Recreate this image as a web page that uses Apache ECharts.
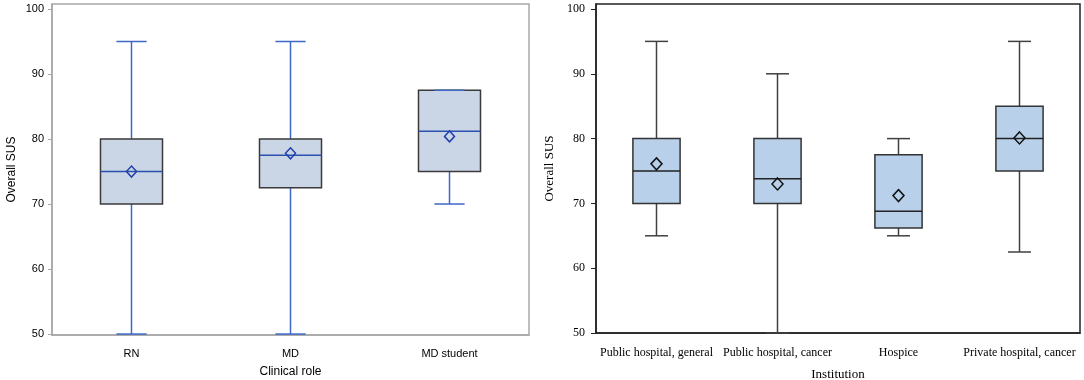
<!DOCTYPE html>
<html>
<head>
<meta charset="utf-8">
<script src="https://cdn.jsdelivr.net/npm/echarts@6/dist/echarts.min.js"></script>
<style>
  html, body { margin: 0; padding: 0; background: #fff; }
  #chart { width: 1084px; height: 380px; }
</style>
</head>
<body>
<div id="chart"></div>
<script>
// left panel: by clinical role
const roleCategories = ['RN', 'MD', 'MD student'];
// [min, q1, median, q3, max]
const roleBoxes = [
  [50, 70, 75, 80, 95],
  [50, 72.5, 77.5, 80, 95],
  [70, 75, 81.2, 87.5, 87.5],
];
const roleMeans = [75, 77.8, 80.4];

// right panel: by institution
const instCategories = ['Public hospital, general', 'Public hospital, cancer', 'Hospice', 'Private hospital, cancer'];
const instBoxes = [
  [65, 70, 75, 80, 95],
  [50, 70, 73.8, 80, 90],
  [65, 66.2, 68.8, 77.5, 80],
  [62.5, 75, 80, 85, 95],
];
const instMeans = [76.1, 73.0, 71.2, 80.1];

const yTicks = [50, 60, 70, 80, 90, 100];

function boxData(boxes) {
  return boxes.map((b, i) => [i].concat(b));
}

function makeRenderer(style) {
  return function (params, api) {
    const idx = api.value(0);
    const band = api.size([1, 0])[0];
    const boxW = band * 0.39;
    const capW = band * 0.19;
    const pMin = api.coord([idx, api.value(1)]);
    const pQ1 = api.coord([idx, api.value(2)]);
    const pMed = api.coord([idx, api.value(3)]);
    const pQ3 = api.coord([idx, api.value(4)]);
    const pMax = api.coord([idx, api.value(5)]);
    const x = pMed[0];
    const lw = { stroke: style.whisker, lineWidth: 1.5 };
    return {
      type: 'group',
      children: [
        { type: 'line', shape: { x1: x, y1: pMax[1], x2: x, y2: pQ3[1] }, style: lw },
        { type: 'line', shape: { x1: x, y1: pQ1[1], x2: x, y2: pMin[1] }, style: lw },
        {
          type: 'rect',
          shape: { x: x - boxW / 2, y: pQ3[1], width: boxW, height: pQ1[1] - pQ3[1] },
          style: { fill: style.fill, stroke: style.border, lineWidth: 1.5 },
        },
        { type: 'line', shape: { x1: x - capW / 2, y1: pMax[1], x2: x + capW / 2, y2: pMax[1] }, style: lw },
        { type: 'line', shape: { x1: x - capW / 2, y1: pMin[1], x2: x + capW / 2, y2: pMin[1] }, style: lw },
        {
          type: 'line',
          shape: { x1: x - boxW / 2, y1: pMed[1], x2: x + boxW / 2, y2: pMed[1] },
          style: { stroke: style.median, lineWidth: 1.5 },
        },
      ],
    };
  };
}

const leftStyle = { fill: '#cad6e6', border: '#3a3a3a', whisker: '#3e67c6', median: '#2a50b0' };
const rightStyle = { fill: '#b8d0ea', border: '#333333', whisker: '#404040', median: '#222222' };

const sansFont = '"Liberation Sans", Arial, sans-serif';
const serifFont = '"Liberation Serif", "Times New Roman", serif';

const chart = echarts.init(document.getElementById('chart'));
chart.setOption({
  animation: false,
  grid: [
    { left: 52, top: 4, width: 477, height: 331, outerBoundsMode: 'none', containLabel: false, show: true, borderColor: '#a8a8a8', borderWidth: 1.5, backgroundColor: 'transparent' },
    { left: 596, top: 4, width: 484, height: 329, outerBoundsMode: 'none', containLabel: false, show: true, borderColor: '#222', borderWidth: 1.5, backgroundColor: 'transparent' },
  ],
  xAxis: [
    {
      type: 'category',
      gridIndex: 0,
      data: roleCategories,
      name: 'Clinical role',
      nameLocation: 'middle',
      nameGap: 31,
      nameTextStyle: { fontFamily: sansFont, fontSize: 12, color: '#000' },
      axisLine: { lineStyle: { color: '#a8a8a8', width: 1.5 } },
      axisTick: { alignWithLabel: true, length: 4, lineStyle: { color: '#a8a8a8' } },
      axisLabel: { fontFamily: sansFont, fontSize: 11, color: '#000', margin: 13 },
      splitLine: { show: false },
    },
    {
      type: 'category',
      gridIndex: 1,
      data: instCategories,
      name: 'Institution',
      nameLocation: 'middle',
      nameGap: 35,
      nameTextStyle: { fontFamily: serifFont, fontSize: 13, color: '#000' },
      axisLine: { lineStyle: { color: '#222', width: 1.5 } },
      axisTick: { alignWithLabel: true, length: 5, lineStyle: { color: '#222' } },
      axisLabel: { fontFamily: serifFont, fontSize: 12, color: '#000', margin: 14, interval: 0 },
      splitLine: { show: false },
    },
  ],
  yAxis: [
    {
      type: 'value',
      gridIndex: 0,
      min: 49.85,
      max: 100.77,
      name: 'Overall SUS',
      nameLocation: 'middle',
      nameGap: 34,
      nameTextStyle: { fontFamily: sansFont, fontSize: 12, color: '#000' },
      axisLine: { show: true, lineStyle: { color: '#a8a8a8', width: 1.5 } },
      axisTick: { show: true, length: 4, customValues: yTicks, lineStyle: { color: '#a8a8a8' } },
      axisLabel: { fontFamily: sansFont, fontSize: 11, color: '#000', margin: 8, customValues: yTicks },
      splitLine: { show: false },
    },
    {
      type: 'value',
      gridIndex: 1,
      min: 50,
      max: 100.77,
      name: 'Overall SUS',
      nameLocation: 'middle',
      nameGap: 40,
      nameTextStyle: { fontFamily: serifFont, fontSize: 13, color: '#000' },
      axisLine: { show: true, lineStyle: { color: '#222', width: 1.5 } },
      axisTick: { show: true, length: 5, customValues: yTicks, lineStyle: { color: '#222' } },
      axisLabel: { fontFamily: serifFont, fontSize: 12, color: '#000', margin: 11, customValues: yTicks },
      splitLine: { show: false },
    },
  ],
  series: [
    {
      type: 'custom',
      xAxisIndex: 0,
      yAxisIndex: 0,
      renderItem: makeRenderer(leftStyle),
      encode: { x: 0, y: [1, 2, 3, 4, 5] },
      data: boxData(roleBoxes),
    },
    {
      type: 'scatter',
      xAxisIndex: 0,
      yAxisIndex: 0,
      symbol: 'diamond',
      symbolSize: [10, 11],
      itemStyle: { color: 'rgba(0,0,0,0)', borderColor: '#1f40a8', borderWidth: 1.5, opacity: 1 },
      data: roleMeans.map((m, i) => [i, m]),
      z: 5,
    },
    {
      type: 'custom',
      xAxisIndex: 1,
      yAxisIndex: 1,
      renderItem: makeRenderer(rightStyle),
      encode: { x: 0, y: [1, 2, 3, 4, 5] },
      data: boxData(instBoxes),
    },
    {
      type: 'scatter',
      xAxisIndex: 1,
      yAxisIndex: 1,
      symbol: 'diamond',
      symbolSize: [11, 12],
      itemStyle: { color: 'rgba(0,0,0,0)', borderColor: '#111', borderWidth: 1.5, opacity: 1 },
      data: instMeans.map((m, i) => [i, m]),
      z: 5,
    },
  ],
});
</script>
</body>
</html>
